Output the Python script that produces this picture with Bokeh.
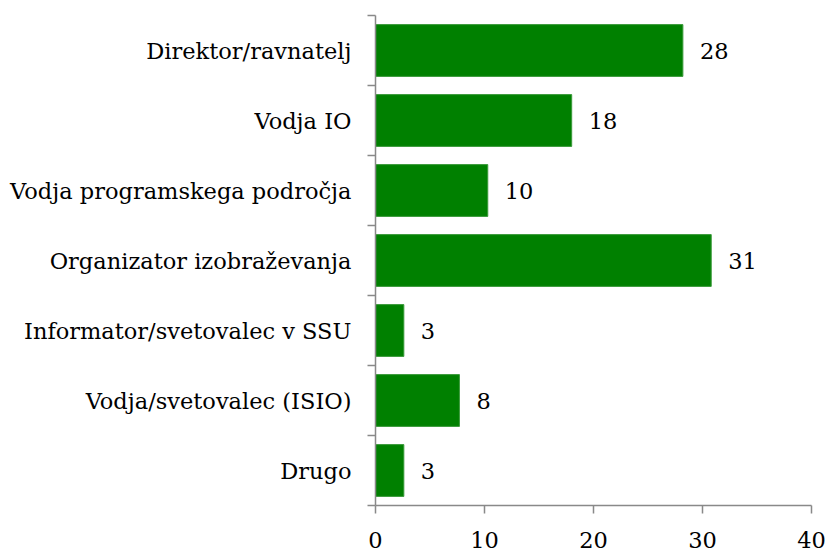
from bokeh.plotting import figure
from bokeh.models import FixedTicker, ColumnDataSource
from bokeh.embed import file_html
from bokeh.resources import INLINE

categories = ["Direktor/ravnatelj", "Vodja IO", "Vodja programskega področja",
              "Organizator izobraževanja", "Informator/svetovalec v SSU",
              "Vodja/svetovalec (ISIO)", "Drugo"]
values = [28.2, 18.0, 10.3, 30.8, 2.6, 7.7, 2.6]
x_ticks = [0, 10, 20, 30, 40]

FONT = "DejaVu Serif"
FS = "22.5px"
n = len(categories)
ypos = [n - 0.5 - i for i in range(n)]
labels = [str(round(v)) for v in values]

src = ColumnDataSource(dict(y=ypos, v=values, lab=labels, cat=categories))

p = figure(width=828, height=552, output_backend="svg", toolbar_location=None,
           x_range=(0, 40), y_range=(0, n),
           min_border_left=375, min_border_right=17, min_border_top=15, min_border_bottom=47)
p.outline_line_color = None
p.xgrid.visible = False
p.ygrid.visible = False

p.hbar(y="y", right="v", left=0, height=0.74, source=src,
       fill_color="#008000", line_color="#3a9a3a", line_width=1)
p.text(x="v", y="y", text="lab", source=src, x_offset=17,
       text_align="left", text_baseline="middle",
       text_font={"value": FONT}, text_font_size=FS, text_color="#000000")

ax = p.xaxis[0]
ax.ticker = FixedTicker(ticks=x_ticks)
ax.axis_line_color = "#898989"
ax.axis_line_width = 1.5
ax.major_tick_line_color = "#898989"
ax.major_tick_line_width = 1.5
ax.major_tick_in = 0
ax.major_tick_out = 8
ax.minor_tick_out = 0
ax.minor_tick_in = 0
ax.major_label_standoff = 18
ax.major_label_text_font = FONT
ax.major_label_text_font_size = FS
ax.major_label_text_color = "#000000"

ay = p.yaxis[0]
ay.ticker = FixedTicker(ticks=ypos, minor_ticks=list(range(n + 1)))
ay.major_label_overrides = {y: c for y, c in zip(ypos, categories)}
ay.axis_line_color = "#898989"
ay.axis_line_width = 1.5
ay.major_tick_in = 0
ay.major_tick_out = 0
ay.minor_tick_in = 0
ay.minor_tick_out = 8
ay.minor_tick_line_color = "#898989"
ay.minor_tick_line_width = 1.5
ay.major_label_standoff = 16
ay.major_label_text_font = FONT
ay.major_label_text_font_size = FS
ay.major_label_text_color = "#000000"

open("out.html", "w").write(file_html(p, INLINE))
